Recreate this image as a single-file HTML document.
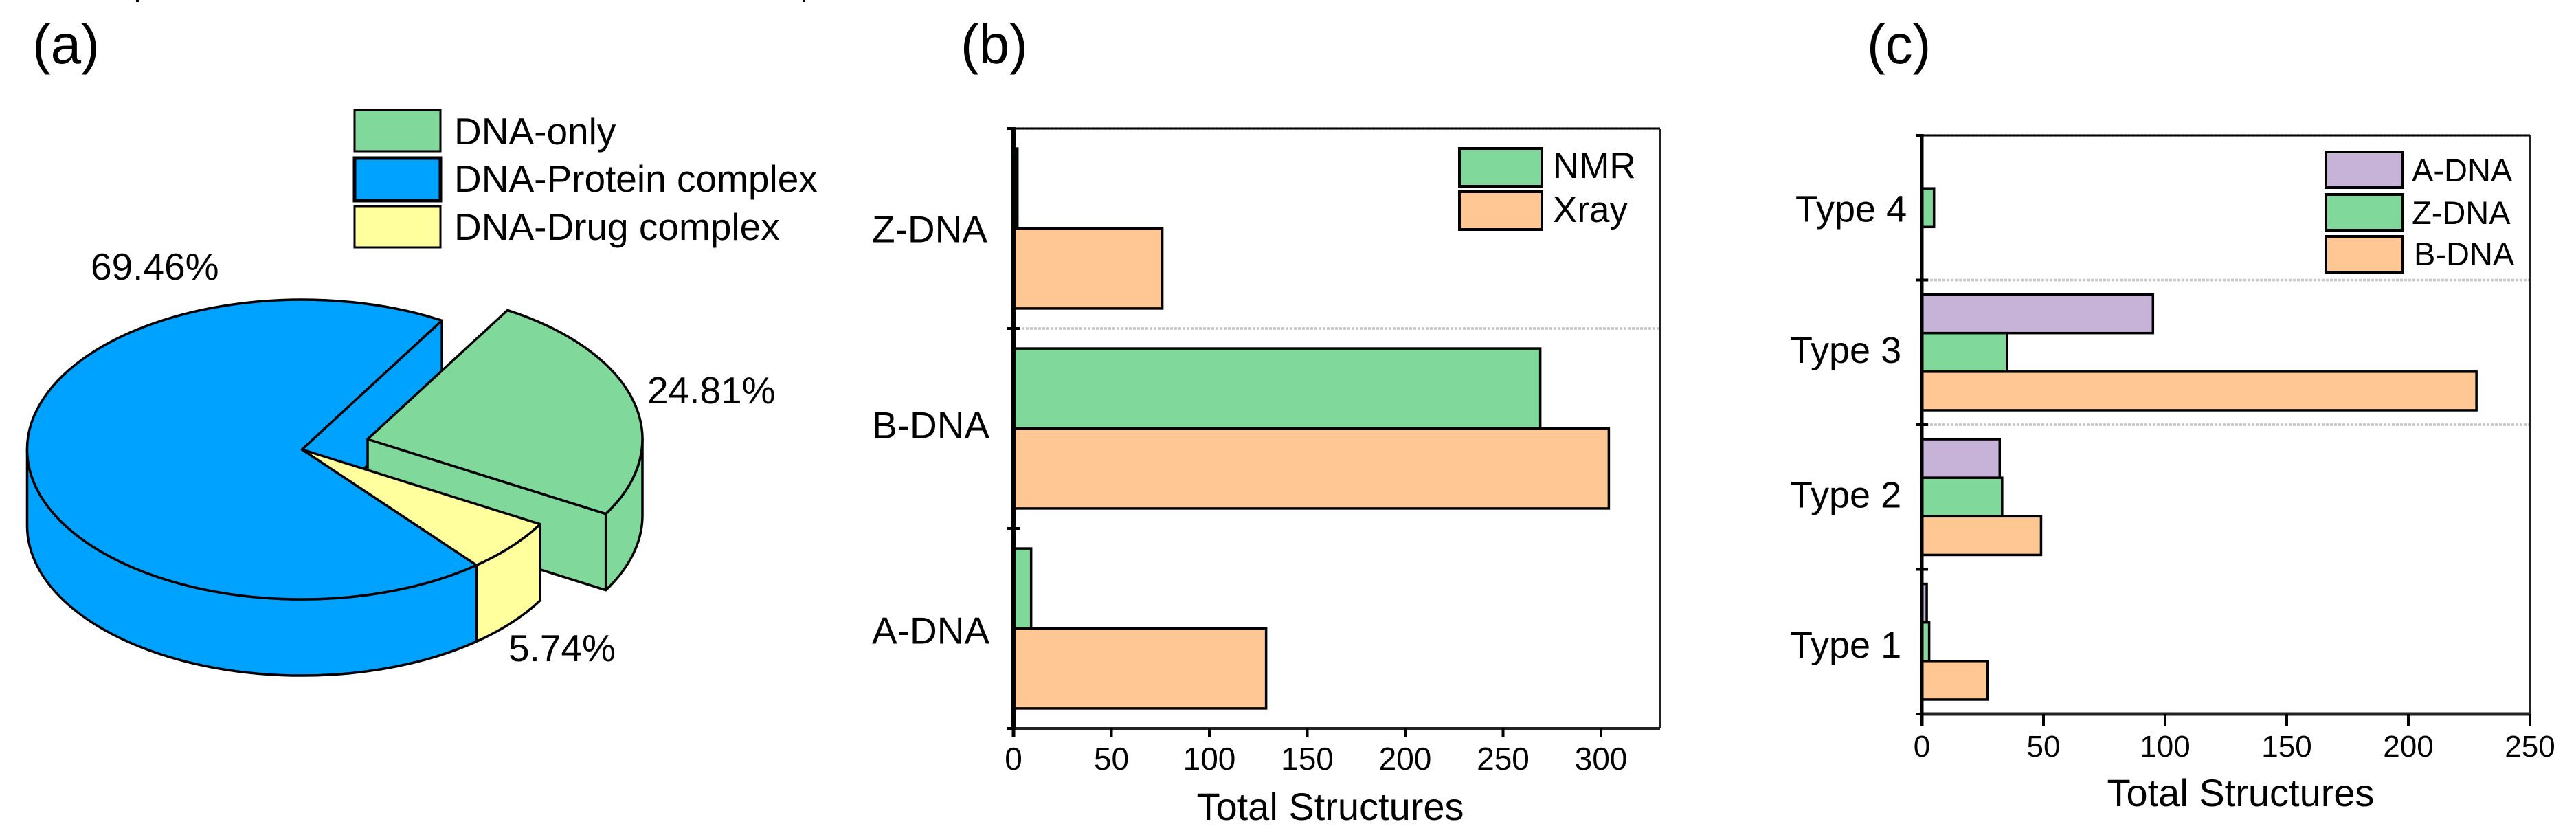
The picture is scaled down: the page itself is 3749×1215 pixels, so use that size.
<!DOCTYPE html>
<html lang="en">
<head>
<meta charset="utf-8">
<title>DNA structures charts</title>
<style>
html,body{margin:0;padding:0;background:#fff;}
svg{display:block;}
text{font-family:"Liberation Sans",Arial,sans-serif;fill:#000;}
</style>
</head>
<body>
<svg id="chart" xmlns="http://www.w3.org/2000/svg" width="3749" height="1215" viewBox="0 0 3749 1215">
  <rect x="0" y="0" width="3749" height="1215" fill="#fff"/>
  <rect x="198" y="0" width="4" height="3" fill="#000"/>
  <rect x="1168" y="0" width="4" height="3" fill="#000"/>
  <text x="47" y="92" font-size="80">(a)</text>
  <text x="1398" y="92" font-size="80">(b)</text>
  <text x="2717" y="92" font-size="80">(c)</text>
  <g id="pie"></g>
  <g id="pie-legend"></g>
  <g id="panel-b"></g>
  <g id="panel-c"></g>
  <text x="1936" y="1193" font-size="56" text-anchor="middle">Total Structures</text>
  <text x="3261" y="1173" font-size="56" text-anchor="middle">Total Structures</text>
</svg>
<script>
// ---- chart data ----
const pieCategories = ['DNA-only', 'DNA-Protein complex', 'DNA-Drug complex'];
const pieValues = [24.81, 69.46, 5.74];

const bCategories = ['A-DNA', 'B-DNA', 'Z-DNA'];
const bSeriesNames = ['NMR', 'Xray'];
const bNmr = [9, 269, 2];
const bXray = [129, 304, 76];
const bTicks = [0, 50, 100, 150, 200, 250, 300];

const cCategories = ['Type 1', 'Type 2', 'Type 3', 'Type 4'];
const cSeriesNames = ['A-DNA', 'Z-DNA', 'B-DNA'];
const cA = [2, 32, 95, 0];
const cZ = [3, 33, 35, 5];
const cB = [27, 49, 228, 0];
const cTicks = [0, 50, 100, 150, 200, 250];

// ---- styles ----
const GREEN = '#80D99B', BLUE = '#00A2FF', YELLOW = '#FFFF9E', PEACH = '#FFC794', PURPLE = '#C8B3D8';
const NS = 'http://www.w3.org/2000/svg';

function make(parent, tag, name, attrs, content) {
  const el = document.createElementNS(NS, tag);
  
  
  for (const k in attrs) el.setAttribute(k, attrs[k]);
  if (content !== undefined) el.textContent = content;
  parent.appendChild(el);
  return el;
}

// ---- pie ----
(function drawPie() {
  const g = document.getElementById('pie');
  const RX = 400, RY = 218, DEPTH = 111, CX = 439.5, CY = 654;
  const GX = 95.5, GY = -15;
  const START = 59.4;
  const total = pieValues.reduce((a, b) => a + b, 0);
  const sweep = v => v / total * 360;
  const a0 = START;
  const a1 = a0 - sweep(pieValues[0]);
  const a2 = a1 - sweep(pieValues[2]);
  const a3 = a0 - 360;
  const pt = (a, cx, cy) => [cx + RX * Math.cos(a * Math.PI / 180), cy - RY * Math.sin(a * Math.PI / 180)];
  const f = p => p[0].toFixed(1) + ' ' + p[1].toFixed(1);
  const st = { stroke: '#000', 'stroke-width': 3.5, 'stroke-linejoin': 'round' };
  const top = (hi, lo, cx, cy) => {
    const large = hi - lo > 180 ? 1 : 0;
    return 'M' + cx + ' ' + cy + 'L' + f(pt(hi, cx, cy)) + 'A' + RX + ' ' + RY + ' 0 ' + large + ' 1 ' + f(pt(lo, cx, cy)) + 'Z';
  };
  const outer = (hiA, loA, cx, cy) => {
    const hi = Math.min(hiA, 0), lo = Math.max(loA, -180);
    if (hi <= lo) return 'M0 0';
    const large = hi - lo > 180 ? 1 : 0;
    return 'M' + f(pt(hi, cx, cy)) + 'A' + RX + ' ' + RY + ' 0 ' + large + ' 1 ' + f(pt(lo, cx, cy)) +
      'L' + f(pt(lo, cx, cy + DEPTH)) + 'A' + RX + ' ' + RY + ' 0 ' + large + ' 0 ' + f(pt(hi, cx, cy + DEPTH)) + 'Z';
  };
  const wall = (a, cx, cy) => 'M' + cx + ' ' + cy + 'L' + f(pt(a, cx, cy)) + 'L' + f(pt(a, cx, cy + DEPTH)) + 'L' + cx + ' ' + (cy + DEPTH) + 'Z';
  const gx = CX + GX, gy = CY + GY;

  make(g, 'path', 'protein-slice-cut-wall', Object.assign({ d: wall(a0, CX, CY), fill: BLUE }, st));
  make(g, 'path', 'dna-only-cut-wall', Object.assign({ d: wall(a1, gx, gy), fill: GREEN }, st));
  make(g, 'path', 'dna-only-outer-wall', Object.assign({ d: outer(a0, a1, gx, gy), fill: GREEN }, st));
  make(g, 'path', 'dna-only-slice', Object.assign({ d: top(a0, a1, gx, gy), fill: GREEN }, st));
  make(g, 'path', 'drug-outer-wall', Object.assign({ d: outer(a1, a2, CX, CY), fill: YELLOW }, st));
  make(g, 'path', 'protein-outer-wall', Object.assign({ d: outer(a2, a3, CX, CY), fill: BLUE }, st));
  make(g, 'path', 'protein-slice', Object.assign({ d: top(a2 + 360, a0, CX, CY), fill: BLUE }, st));
  make(g, 'path', 'drug-slice', Object.assign({ d: top(a1, a2, CX, CY), fill: YELLOW }, st));

  make(g, 'text', 'protein-percent-label', { x: 132, y: 407, 'font-size': 55 }, pieValues[1].toFixed(2) + '%');
  make(g, 'text', 'dna-only-percent-label', { x: 942, y: 587, 'font-size': 55 }, pieValues[0].toFixed(2) + '%');
  make(g, 'text', 'drug-percent-label', { x: 740, y: 962, 'font-size': 55 }, pieValues[2].toFixed(2) + '%');

  const lg = document.getElementById('pie-legend');
  const colors = [GREEN, BLUE, YELLOW];
  const tops = [160, 230, 300], heights = [60, 62, 60], bases = [210, 279, 349];
  pieCategories.forEach((c, i) => {
    make(lg, 'rect', 'legend-swatch', { x: 516, y: tops[i], width: 125, height: heights[i], fill: colors[i], stroke: '#000', 'stroke-width': i === 1 ? 5 : 3 });
    make(lg, 'text', 'legend-entry', { x: 661, y: bases[i], 'font-size': 55 }, c);
  });
})();

// ---- bar chart helper ----
function barChart(opts) {
  const g = document.getElementById(opts.id);
  const n = opts.categories.length;
  const xScale = v => opts.left + v * opts.unit;
  const bandH = (opts.bottom - opts.top) / n;
  // band index 0 is at the bottom
  const bandTop = i => opts.bottom - (i + 1) * bandH;
  const barH = bandH * 0.8 / opts.series.length;

  // separators
  for (let i = 1; i < n; i++) {
    make(g, 'line', 'band-separator', { x1: opts.left, x2: opts.right, y1: bandTop(i), y2: bandTop(i), stroke: '#c4c4c4', 'stroke-width': 3.5, 'stroke-dasharray': '4 2' });
  }

  // bars
  opts.series.forEach((vals, s) => {
    vals.forEach((v, i) => {
      if (v <= 0) return;
      make(g, 'rect', 'bar-' + opts.categories[i].toLowerCase().replace(/ /g, '-') + '-' + opts.seriesNames[s].toLowerCase(), {
        x: xScale(0), y: bandTop(i) + bandH * 0.1 + s * barH, width: xScale(v) - xScale(0), height: barH,
        fill: opts.colors[s], stroke: '#000', 'stroke-width': 3.5
      });
    });
  });

  // frame
  make(g, 'line', 'top-border', { x1: opts.left, x2: opts.right, y1: opts.top, y2: opts.top, stroke: '#000', 'stroke-width': 3 });
  make(g, 'line', 'right-border', { x1: opts.right, x2: opts.right, y1: opts.top, y2: opts.bottom, stroke: '#222', 'stroke-width': 3 });
  make(g, 'line', 'x-axis', { x1: opts.left, x2: opts.right, y1: opts.bottom, y2: opts.bottom, stroke: '#222', 'stroke-width': opts.xAxisWidth });
  make(g, 'line', 'y-axis', { x1: opts.left, x2: opts.left, y1: opts.top - 2, y2: opts.bottom, stroke: '#000', 'stroke-width': opts.yAxisWidth });

  // y ticks & category labels
  for (let i = 0; i <= n; i++) {
    const y = opts.bottom - i * bandH;
    make(g, 'line', 'y-tick', { x1: opts.left - 9, x2: opts.left + 9 * (i > 0 && i < n ? 1 : 0), y1: y, y2: y, stroke: '#000', 'stroke-width': 4 });
  }
  opts.categories.forEach((c, i) => {
    make(g, 'text', 'category-label', { x: opts.catX + opts.catNudgeX[i], y: bandTop(i) + bandH / 2 + 20 + opts.catNudgeY[i], 'font-size': opts.catFont }, c);
  });

  // x ticks
  opts.ticks.forEach(t => {
    make(g, 'line', 'x-tick', { x1: xScale(t), x2: xScale(t), y1: opts.bottom, y2: opts.bottom + opts.tickLen, stroke: '#000', 'stroke-width': t === 0 ? 5 : 4 });
    make(g, 'text', 'x-tick-label', { x: xScale(t), y: opts.tickBase, 'font-size': opts.tickFont, 'text-anchor': 'middle' }, String(t));
  });

  // legend
  opts.seriesNames.forEach((name, s) => {
    make(g, 'rect', 'legend-swatch', { x: opts.legX, y: opts.legTops[s], width: opts.legW, height: opts.legH, fill: opts.colors[s], stroke: '#000', 'stroke-width': 4 });
    make(g, 'text', 'legend-entry', { x: opts.legTextX + (opts.legNudge ? opts.legNudge[s] : 0), y: opts.legBases[s], 'font-size': opts.legFont }, name);
  });
}

barChart({
  id: 'panel-b', categories: bCategories, series: [bNmr, bXray], seriesNames: bSeriesNames, colors: [GREEN, PEACH],
  left: 1475, right: 2416, top: 187, bottom: 1060, unit: 2.85, xAxisWidth: 4, yAxisWidth: 6,
  ticks: bTicks, tickLen: 13, tickBase: 1120, tickFont: 46,
  catX: 1269, catNudgeX: [0, 0, 0], catNudgeY: [2, -6, 0], catFont: 55,
  legX: 2124, legW: 120, legH: 55, legTops: [216, 279], legBases: [259, 323], legTextX: 2260, legFont: 53
});

barChart({
  id: 'panel-c', categories: cCategories, series: [cA, cZ, cB], seriesNames: cSeriesNames, colors: [PURPLE, GREEN, PEACH],
  left: 2797, right: 3682, top: 197, bottom: 1039, unit: 3.54, xAxisWidth: 5, yAxisWidth: 5,
  ticks: cTicks, tickLen: 17, tickBase: 1101, tickFont: 44,
  catX: 2605, catNudgeX: [0, 0, 0, 8], catNudgeY: [3, -5, -5, 0], catFont: 54,
  legX: 3385, legW: 112, legH: 52, legTops: [221, 283, 344], legBases: [264, 326, 386], legTextX: 3510, legNudge: [0, 0, 3], legFont: 47
});
</script>
</body>
</html>
